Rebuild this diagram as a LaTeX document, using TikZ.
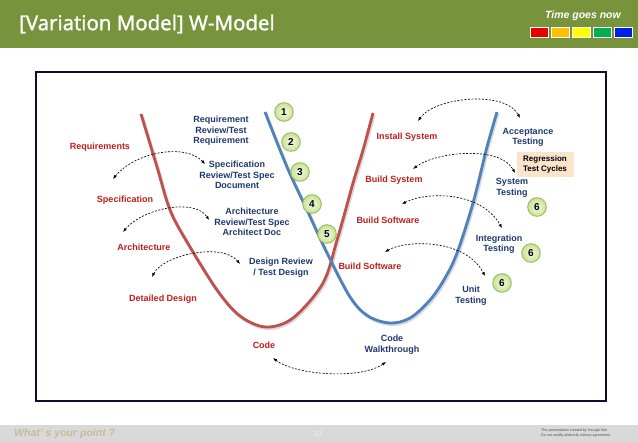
\documentclass[tikz,border=0pt]{standalone}
\usepackage{fontspec}
\setmainfont{Liberation Sans}
\newfontfamily\titlefont[FakeBold=1.6]{Open Sans}
\usetikzlibrary{arrows.meta}
\definecolor{hdrgreen}{RGB}{119,147,60}
\definecolor{curvered}{RGB}{192,80,77}
\definecolor{curveblue}{RGB}{79,129,189}
\definecolor{lblred}{RGB}{190,30,30}
\definecolor{lblblue}{RGB}{31,56,110}
\definecolor{regfill}{RGB}{251,228,204}
\definecolor{circin}{RGB}{245,250,232}
\definecolor{circout}{RGB}{200,226,150}
\definecolor{circdraw}{RGB}{155,187,89}
\definecolor{footgray}{RGB}{217,217,217}
\definecolor{footkhaki}{RGB}{196,189,151}
\definecolor{framecol}{RGB}{15,15,45}
\definecolor{boxred}{RGB}{230,0,0}
\definecolor{boxorange}{RGB}{255,192,0}
\definecolor{boxyellow}{RGB}{255,255,0}
\definecolor{boxgreen}{RGB}{0,176,80}
\definecolor{boxblue}{RGB}{0,32,230}
\begin{document}
\begin{tikzpicture}[x=1pt,y=-1pt,
  redlbl/.style={text=lblred, font=\bfseries\fontsize{9}{10.5}\selectfont, align=center, inner sep=0pt},
  bluelbl/.style={text=lblblue, font=\bfseries\fontsize{9}{10.5}\selectfont, align=center, inner sep=0pt},
  numc/.style={circle, minimum size=18.6pt, inner sep=0pt, draw=circdraw, line width=0.9pt,
    shade, inner color=circin, outer color=circout, font=\bfseries\fontsize{10}{10}\selectfont},
  darr/.style={dash pattern=on 2pt off 1.5pt, line width=0.65pt,
    {Latex[length=4pt,width=3.2pt]}-{Latex[length=4pt,width=3.2pt]}},
  vcurve/.style={line width=2.8pt},
  vshadow/.style={line width=3pt, black, opacity=0.15},
  colbox/.style={draw=white, line width=0.6pt, minimum width=18pt, minimum height=10pt, inner sep=0pt}
]
\useasboundingbox (0,0) rectangle (638,442);
\fill[white] (0,0) rectangle (638,442);

% header
\fill[hdrgreen] (0,0) rectangle (638,48);
\node[anchor=west, text=white, font=\titlefont\fontsize{20.5}{22}\selectfont, inner sep=0pt] (title) at (19,24) {[Variation Model] W-Model};
\node[text=white, font=\bfseries\itshape\fontsize{10.5}{11}\selectfont, inner sep=0pt] (tgn) at (583,16) {Time goes now};
\node[colbox, fill=boxred] (b1) at (539.5,32) {};
\node[colbox, fill=boxorange] (b2) at (560.5,32) {};
\node[colbox, fill=boxyellow] (b3) at (581.5,32) {};
\node[colbox, fill=boxgreen] (b4) at (602.5,32) {};
\node[colbox, fill=boxblue] (b5) at (623.5,32) {};

% footer
\fill[footgray] (0,425) rectangle (638,442);
\node[text=footkhaki, font=\bfseries\itshape\fontsize{10.5}{11}\selectfont, inner sep=0pt, anchor=west] (wyp) at (14,433.5) {What' s your point ?};
\node[text=white!94!black, font=\fontsize{8}{8}\selectfont, inner sep=0pt] (pg) at (318,433.5) {33};
\node[text=black!70, font=\fontsize{3.6}{4.4}\selectfont, align=left, inner sep=0pt, anchor=west] (copy) at (541,433) {This presentation created by Youngki Kim\\Do not modify arbitrarily without agreement};

% frame
\draw[framecol, line width=1.1pt] (36,72) rectangle (606,401);

% curves (shadow + line)
\draw[vshadow, xshift=1.2pt, yshift=-1.5pt] plot[smooth, tension=0.55] coordinates {(141,114) (157,167) (170,210) (187,242) (217,290) (240,316) (266,327) (293,318) (323,283) (337,240) (345,212) (353,183) (363,150) (373,113)};
\draw[vshadow, xshift=1.2pt, yshift=-1.5pt] plot[smooth, tension=0.55] coordinates {(265,112) (287,167) (307,210) (327,253) (350,297) (368,316) (390,323) (410,318) (430,300) (445,278) (457,253) (473,203) (487,147) (497,112)};
\draw[vcurve, curvered] plot[smooth, tension=0.55] coordinates {(141,114) (157,167) (170,210) (187,242) (217,290) (240,316) (266,327) (293,318) (323,283) (337,240) (345,212) (353,183) (363,150) (373,113)};
\draw[vcurve, curveblue] plot[smooth, tension=0.55] coordinates {(265,112) (287,167) (307,210) (327,253) (350,297) (368,316) (390,323) (410,318) (430,300) (445,278) (457,253) (473,203) (487,147) (497,112)};

% red labels
\node[redlbl] (lreq) at (100,147) {Requirements};
\node[redlbl] (lspec) at (125,200) {Specification};
\node[redlbl] (larch) at (144,247) {Architecture};
\node[redlbl] (ldd) at (163,299) {Detailed Design};
\node[redlbl] (lcode) at (264,345) {Code};
\node[redlbl] (linst) at (407,137) {Install System};
\node[redlbl] (lbsys) at (394,180) {Build System};
\node[redlbl] (lbsw1) at (388,220) {Build Software};
\node[redlbl] (lbsw2) at (370,266) {Build Software};

% blue labels
\node[bluelbl] (rreq) at (221,131) {Requirement\\Review/Test\\Requirement};
\node[bluelbl] (rspec) at (237,175) {Specification\\Review/Test Spec\\Document};
\node[bluelbl] (rarch) at (252,222) {Architecture\\Review/Test Spec\\Architect Doc};
\node[bluelbl] (rdes) at (281,267.5) {Design Review\\/ Test Design};
\node[bluelbl] (rcw) at (392,344.5) {Code\\Walkthrough};
\node[bluelbl] (tacc) at (528,137.5) {Acceptance\\Testing};
\node[bluelbl] (tsys) at (512,188) {System\\Testing};
\node[bluelbl] (tint) at (499,244) {Integration\\Testing};
\node[bluelbl] (tunit) at (471,295.5) {Unit\\Testing};

% regression box
\node[fill=regfill, minimum width=57pt, minimum height=25pt, inner sep=0pt, align=center,
  font=\bfseries\fontsize{8}{10}\selectfont] (reg) at (545,164) {Regression\\Test Cycles};

% numbered circles
\node[numc] (n1) at (284,112) {1};
\node[numc] (n2) at (291,142) {2};
\node[numc] (n3) at (300,172) {3};
\node[numc] (n4) at (312,204) {4};
\node[numc] (n5) at (327,234) {5};
\node[numc] (n6a) at (537,207) {6};
\node[numc] (n6b) at (531,253) {6};
\node[numc] (n6c) at (502,283) {6};

% dashed arrows
\coordinate (a1s) at (113,179); \coordinate (a1e) at (205,164);
\coordinate (a2s) at (123,232); \coordinate (a2e) at (209,220);
\coordinate (a3s) at (152,277); \coordinate (a3e) at (240,264);
\coordinate (a4s) at (273,358); \coordinate (a4e) at (386,362);
\coordinate (a5s) at (418,121); \coordinate (a5e) at (520,118);
\coordinate (a6s) at (413,169); \coordinate (a6e) at (515,173);
\coordinate (a7s) at (402,204); \coordinate (a7e) at (502,228);
\coordinate (a8s) at (385,252); \coordinate (a8e) at (485,276);
\draw[darr] (a1s) .. controls (135,152) and (185,143) .. (a1e);
\draw[darr] (a2s) .. controls (143,208) and (195,198) .. (a2e);
\draw[darr] (a3s) .. controls (163,255) and (222,242) .. (a3e);
\draw[darr] (a4s) .. controls (295,375) and (360,380) .. (a4e);
\draw[darr] (a5s) .. controls (435,97) and (505,90) .. (a5e);
\draw[darr] (a6s) .. controls (435,152) and (500,145) .. (a6e);
\draw[darr] (a7s) .. controls (425,192) and (480,190) .. (a7e);
\draw[darr] (a8s) .. controls (405,240) and (465,238) .. (a8e);
\end{tikzpicture}
\end{document}
